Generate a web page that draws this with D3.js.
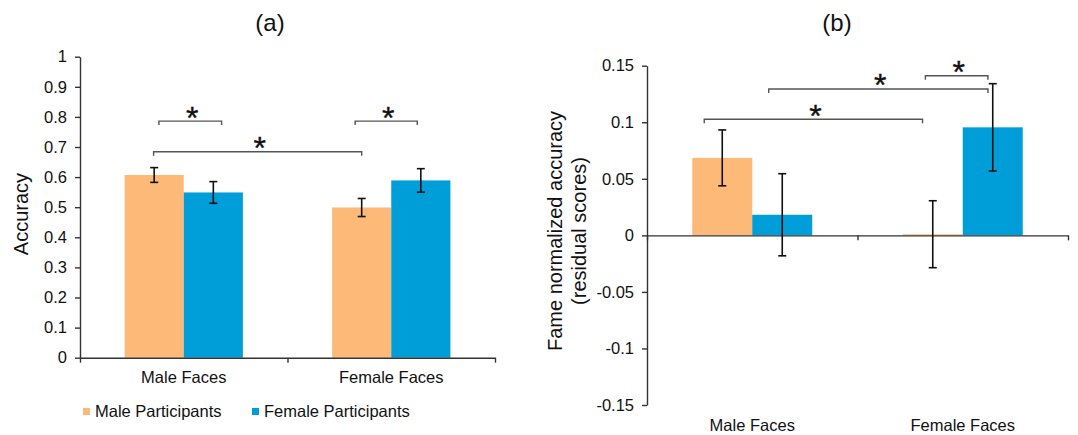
<!DOCTYPE html>
<html>
<head>
<meta charset="utf-8">
<script src="https://cdn.jsdelivr.net/npm/d3@7"></script>
<style>
  html, body { margin: 0; padding: 0; background: #fff; }
  svg { display: block; font-family: "Liberation Sans", Arial, sans-serif; }
</style>
</head>
<body>
<script>
"use strict";
(function(){
    // categories and series
    const categories = ["Male Faces", "Female Faces"]
    const groups = ["Male Participants", "Female Participants"]
    const groupColors = ["#FDB978", "#009ED8"]

    // (a) accuracy, one value per category
    const accuracyMaleP = [0.607, 0.499]
    const accuracyFemaleP = [0.549, 0.589]
    const accuracyMaleErr = [0.0245, 0.030]
    const accuracyFemaleErr = [0.036, 0.039]
    const accuracyTicks = [0, 0.1, 0.2, 0.3, 0.4, 0.5, 0.6, 0.7, 0.8, 0.9, 1]

    // (b) fame normalized accuracy
    const residualMaleP = [0.0685, 0.001]
    const residualFemaleP = [0.0182, 0.0955]
    const residualMaleErr = [0.0247, 0.0296]
    const residualFemaleErr = [0.0363, 0.0386]
    const residualTicks = [-0.15, -0.1, -0.05, 0, 0.05, 0.1, 0.15]

    // significance brackets: [category, series] -> [category, series] at height y
    const accuracyBrackets = [
        { from: [0, 0], to: [0, 1], y: 0.786 },
        { from: [0, 0], to: [1, 0], y: 0.684 },
        { from: [1, 0], to: [1, 1], y: 0.786 }
    ]
    const residualBrackets = [
        { from: [0, 0], to: [1, 0], y: 0.1026 },
        { from: [0, 1], to: [1, 1], y: 0.1294 },
        { from: [1, 0], to: [1, 1], y: 0.1411 }
    ]

    const width = 1078, height = 435
    const ink = "#111", axisColor = "#333"
    const fontSize = "16.5px"

    const svg = d3.select("body").append("svg")
        .attr("width", width)
        .attr("height", height)

    drawPanel({
        title: "(a)", titleX: 270,
        x0: 80, x1: 495, yTop: 56.7, yBottom: 357.7,
        yDomain: [0, 1], ticks: accuracyTicks,
        means: [accuracyMaleP, accuracyFemaleP],
        errs: [accuracyMaleErr, accuracyFemaleErr],
        brackets: accuracyBrackets,
        // where inside each bar the bracket ends sit (fraction of bar width)
        anchors: [[0.58, 0.64], [0.49, 0.50], [0.39, 0.44]],
        labelY: 383,
        yLabel: ["Accuracy"], yLabelX: [28], yLabelY: 214
    })

    drawPanel({
        title: "(b)", titleX: 837,
        x0: 647, x1: 1068, yTop: 65.7, yBottom: 405,
        yDomain: [-0.15, 0.15], ticks: residualTicks,
        means: [residualMaleP, residualFemaleP],
        errs: [residualMaleErr, residualFemaleErr],
        brackets: residualBrackets,
        anchors: [[0.20, 0.33], [0.275, 0.42], [0.377, 0.42]],
        labelY: 431,
        yLabel: ["Fame normalized accuracy", "(residual scores)"],
        yLabelX: [562, 586], yLabelY: 231
    })

    makeLegend()

    function drawPanel(p) {
        const g = svg.append("g")

        const xBand = d3.scaleBand()
            .domain(d3.range(categories.length))
            .range([p.x0, p.x1])
            .paddingInner(0.43)
            .paddingOuter(0.215)
        const xSub = d3.scaleBand()
            .domain(d3.range(groups.length))
            .range([0, xBand.bandwidth()])
        const y = d3.scaleLinear()
            .domain(p.yDomain)
            .range([p.yBottom, p.yTop])

        const rows = []
        categories.forEach((c, i) => {
            groups.forEach((s, j) => {
                rows.push({ cat: i, s: j, v: p.means[j][i], e: p.errs[j][i] })
            })
        })
        const barX = (cat, s) => xBand(cat) + xSub(s)

        g.selectAll(".bar")
            .data(rows)
            .enter()
            .append("rect")
            .attr("x", d => barX(d.cat, d.s))
            .attr("width", xSub.bandwidth())
            .attr("y", d => Math.min(y(d.v), y(0)))
            .attr("height", d => Math.max(1, Math.abs(y(d.v) - y(0))))
            .attr("fill", d => groupColors[d.s])

        // axes
        const yAxis = d3.axisLeft(y)
            .tickValues(p.ticks)
            .tickSize(5)
            .tickSizeOuter(0)
            .tickPadding(8)
            .tickFormat(d => String(+d.toFixed(2)))
        const ya = g.append("g")
            .attr("transform", `translate(${p.x0},0)`)
            .call(yAxis)

        const xEdges = d3.scaleLinear().domain([0, categories.length]).range([p.x0, p.x1])
        const xAxis = d3.axisBottom(xEdges)
            .tickValues(d3.range(categories.length + 1))
            .tickSize(5)
            .tickSizeOuter(0)
            .tickFormat("")
        const xa = g.append("g")
            .attr("transform", `translate(0,${y(0)})`)
            .call(xAxis)

        for (let a of [ya, xa]) {
            a.select(".domain").attr("stroke", axisColor).attr("stroke-width", 1.4)
            a.selectAll(".tick line").attr("stroke", axisColor).attr("stroke-width", 1.4)
            a.selectAll(".tick text")
                .attr("fill", ink)
                .style("font-size", fontSize)
                .style("font-family", "'Liberation Sans', Arial, sans-serif")
        }

        g.selectAll(".cat")
            .data(categories)
            .enter()
            .append("text")
            .attr("x", (d, i) => xBand(i) + xBand.bandwidth() / 2)
            .attr("y", p.labelY)
            .attr("text-anchor", "middle")
            .attr("fill", ink)
            .style("font-size", fontSize)
            .text(d => d)

        // error bars
        const cap = 4
        const eb = g.selectAll(".err")
            .data(rows)
            .enter()
            .append("g")
            .attr("stroke", ink)
            .attr("stroke-width", 1.6)
        eb.append("line")
            .attr("x1", d => barX(d.cat, d.s) + xSub.bandwidth() / 2)
            .attr("x2", d => barX(d.cat, d.s) + xSub.bandwidth() / 2)
            .attr("y1", d => y(d.v + d.e))
            .attr("y2", d => y(d.v - d.e))
        for (let sign of [1, -1]) {
            eb.append("line")
                .attr("x1", d => barX(d.cat, d.s) + xSub.bandwidth() / 2 - cap)
                .attr("x2", d => barX(d.cat, d.s) + xSub.bandwidth() / 2 + cap)
                .attr("y1", d => y(d.v + sign * d.e))
                .attr("y2", d => y(d.v + sign * d.e))
        }

        // significance brackets
        p.brackets.forEach((b, k) => {
            const xa1 = barX(b.from[0], b.from[1]) + xSub.bandwidth() * p.anchors[k][0]
            const xa2 = barX(b.to[0], b.to[1]) + xSub.bandwidth() * p.anchors[k][1]
            const yb = y(b.y)
            g.append("path")
                .attr("d", `M${xa1},${yb + 4}V${yb}H${xa2}V${yb + 4}`)
                .attr("fill", "none")
                .attr("stroke", "#555")
                .attr("stroke-width", 1.4)
            g.append("text")
                .attr("x", (xa1 + xa2) / 2 + 2)
                .attr("y", yb + 7.5)
                .attr("text-anchor", "middle")
                .attr("fill", ink)
                .style("font-size", "32px")
                .style("stroke", ink)
                .style("stroke-width", 0.4)
                .text("*")
        })

        // title and y label
        g.append("text")
            .attr("x", p.titleX)
            .attr("y", 31)
            .attr("text-anchor", "middle")
            .attr("fill", ink)
            .style("font-size", "24px")
            .text(p.title)

        p.yLabel.forEach((t, i) => {
            g.append("text")
                .attr("transform", `translate(${p.yLabelX[i]},${p.yLabelY}) rotate(-90)`)
                .attr("text-anchor", "middle")
                .attr("fill", ink)
                .style("font-size", "20px")
                .text(t)
        })
    }

    function makeLegend() {
        const legendX = [83, 252]
        const lg = svg.selectAll(".legend")
            .data(groups)
            .enter()
            .append("g")
            .attr("transform", (d, i) => `translate(${legendX[i]},408)`)
        lg.append("rect")
            .attr("width", 7)
            .attr("height", 7)
            .attr("fill", (d, i) => groupColors[i])
        lg.append("text")
            .attr("x", 12)
            .attr("y", 8.5)
            .attr("fill", ink)
            .style("font-size", fontSize)
            .text(d => d)
    }
})()
</script>
</body>
</html>
